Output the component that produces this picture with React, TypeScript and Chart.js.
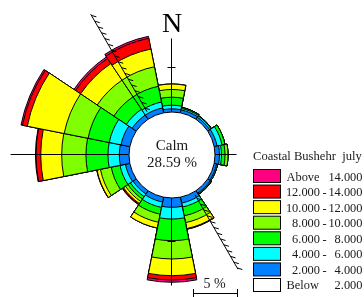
import React, { useEffect, useRef } from 'react';
import { Chart, registerables } from 'chart.js';

Chart.register(...registerables);

// 16 wind directions, clockwise from North
const directions = ['N', 'NNE', 'NE', 'ENE', 'E', 'ESE', 'SE', 'SSE', 'S', 'SSW', 'SW', 'WSW', 'W', 'WNW', 'NW', 'NNW'];

// frequency (%) of each speed class per direction
const band2to4 = [0.36, 0.34, 0.28, 0.34, 0.51, 0.28, 0.34, 0.68, 1.06, 0.57, 0.45, 0.51, 1.10, 1.02, 0.57, 0.57];
const band4to6 = [0.41, 0.17, 0.17, 0.57, 0.23, 0.12, 0.11, 0.46, 1.33, 0.62, 0.35, 0.63, 1.29, 1.37, 0.79, 0.68];
const band6to8 = [0.91, 0.12, 0.06, 0.34, 0.40, 0.00, 0.06, 1.02, 2.46, 0.78, 0.34, 1.02, 2.50, 2.45, 1.71, 1.82];
const band8to10 = [0.88, 0.00, 0.00, 0.00, 0.34, 0.00, 0.00, 0.79, 2.08, 0.94, 0.34, 1.25, 2.76, 2.77, 2.27, 2.27];
const band10to12 = [0.62, 0.00, 0.00, 0.00, 0.00, 0.00, 0.00, 0.69, 1.90, 0.67, 0.28, 0.40, 2.38, 4.27, 2.27, 2.05];
const band12to14 = [0.00, 0.00, 0.00, 0.00, 0.00, 0.00, 0.00, 0.08, 0.49, 0.00, 0.12, 0.03, 0.54, 0.56, 0.69, 1.25];
const bandAbove14 = [0.00, 0.00, 0.00, 0.00, 0.00, 0.00, 0.00, 0.00, 0.26, 0.00, 0.05, 0.00, 0.06, 0.17, 0.22, 0.22];

const calmPercent = 28.59;
const chartTitle = 'Coastal Bushehr  july';

const bandSeries = [band2to4, band4to6, band6to8, band8to10, band10to12, band12to14, bandAbove14];
const bandNames = ['2.000 - 4.000', '4.000 - 6.000', '6.000 - 8.000', '8.000 - 10.000', '10.000 - 12.000', '12.000 - 14.000', 'Above 14.000'];
const bandColors = ['#0080FF', '#00FFFF', '#00FF00', '#80FF00', '#FFFF00', '#FF0000', '#FF0080'];

// legend rows (top to bottom)
const legendLow = ['Above', '12.000', '10.000', '8.000', '6.000', '4.000', '2.000', 'Below'];
const legendHigh = ['14.000', '14.000', '12.000', '10.000', '8.000', '6.000', '4.000', '2.000'];
const legendColors = ['#FF0080', '#FF0000', '#FFFF00', '#80FF00', '#00FF00', '#00FFFF', '#0080FF', '#FFFFFF'];

const scaleBarPercent = 5;

const SERIF = '"Liberation Serif", "Times New Roman", serif';

export default function App() {
  const ref = useRef<HTMLCanvasElement>(null);

  useEffect(() => {
    const canvas = ref.current;
    if (!canvas) return;

    // cumulative radii for stacking
    const cumulative: number[][] = [];
    let run = directions.map(() => 0);
    bandSeries.forEach((b) => {
      run = run.map((v, i) => v + b[i]);
      cumulative.push(run.slice());
    });

    const datasets = cumulative.map((d, k) => ({
      label: bandNames[k],
      data: d,
      backgroundColor: bandColors[k],
      borderColor: '#000000',
      borderWidth: 1,
      clip: false as any,
    }));

    const pxPerPercent = 8.8;
    const calmRadius = 43;
    const rMin = -calmRadius / pxPerPercent;
    const rMax = 14;

    const overlay = {
      id: 'overlay',
      afterDatasetsDraw(chart: any) {
        const ctx = chart.ctx as CanvasRenderingContext2D;
        const s = chart.scales.r;
        const cx = s.xCenter;
        const cy = s.yCenter;
        const rad = (v: number) => s.getDistanceFromCenterForValue(v);
        const r0 = rad(0);
        const lx = cx - 0.5;
        const ly = cy - 0.5;
        ctx.save();
        ctx.strokeStyle = '#000';
        ctx.lineWidth = 1;
        const seg = (x1: number, y1: number, x2: number, y2: number) => {
          ctx.beginPath();
          ctx.moveTo(x1, y1);
          ctx.lineTo(x2, y2);
          ctx.stroke();
        };
        // cross axes
        seg(lx, ly - r0, lx, ly - rad(8.3));
        seg(lx, ly + r0, lx, ly + rad(10.0));
        seg(lx - r0, ly, lx - rad(13.4), ly);
        seg(lx + r0, ly, lx + rad(2.5), ly);
        // 5% ticks
        const t5 = rad(5);
        seg(lx - 4, ly - t5, lx + 4, ly - t5);
        seg(lx - 4, ly + t5, lx + 4, ly + t5);

        // coastline with hatching
        const bearing = (330 * Math.PI) / 180;
        const ux = Math.sin(bearing);
        const uy = -Math.cos(bearing);
        const coast = (from: number, to: number, sign: number) => {
          const a = rad(from);
          const b = rad(to);
          seg(cx + sign * ux * a, cy + sign * uy * a, cx + sign * ux * b, cy + sign * uy * b);
          for (let r = a + 4; r <= b; r += 6.7) {
            const px = cx + sign * ux * r;
            const py = cy + sign * uy * r;
            seg(px, py, px + 5, py + 1.5);
          }
        };
        coast(0.8, 13.6, 1);
        coast(0.35, 10.1, -1);

        // calm circle
        ctx.beginPath();
        ctx.arc(cx, cy, r0, 0, Math.PI * 2);
        ctx.fillStyle = '#ffffff';
        ctx.fill();
        ctx.stroke();

        ctx.fillStyle = '#1a1a1a';
        ctx.textAlign = 'center';
        ctx.textBaseline = 'alphabetic';
        ctx.font = `15px ${SERIF}`;
        ctx.fillText('Calm', cx, cy - 5);
        ctx.fillText(`${calmPercent.toFixed(2)} %`, cx, cy + 12);

        // North label
        ctx.fillStyle = '#000';
        ctx.font = `28px ${SERIF}`;
        ctx.fillText('N', cx, 31.5);

        // scale bar
        const barX = 193.5;
        const barLen = rad(scaleBarPercent) - r0;
        seg(barX, 293.5, barX + barLen, 293.5);
        seg(barX, 289, barX, 297);
        seg(barX + barLen, 289, barX + barLen, 297);
        ctx.font = `14px ${SERIF}`;
        ctx.fillStyle = '#1a1a1a';
        ctx.fillText(`${scaleBarPercent} %`, barX + barLen / 2 - 1, 288);

        // legend
        ctx.textAlign = 'left';
        ctx.font = `12.6px ${SERIF}`;
        ctx.fillText(chartTitle, 253, 160);
        ctx.font = `12.4px ${SERIF}`;
        legendLow.forEach((lo, i) => {
          const y = 169.5 + i * 15.57;
          ctx.fillStyle = legendColors[i];
          ctx.fillRect(253.5, y, 27, 13);
          ctx.strokeStyle = '#000';
          ctx.strokeRect(253.5, y, 27, 13);
          ctx.fillStyle = '#1a1a1a';
          const base = y + 11;
          if (lo === 'Above' || lo === 'Below') {
            ctx.textAlign = 'left';
            ctx.fillText(lo, 286.5, base);
          } else {
            ctx.textAlign = 'right';
            ctx.fillText(lo, 320, base);
            ctx.textAlign = 'center';
            ctx.fillText('-', 324.5, base);
          }
          ctx.textAlign = 'right';
          ctx.fillText(legendHigh[i], 362.5, base);
        });
        ctx.restore();
      },
    };

    const chart = new Chart(canvas, {
      type: 'polarArea',
      data: { labels: directions, datasets: datasets as any },
      options: {
        responsive: false,
        animation: false,
        devicePixelRatio: 1,
        layout: { padding: { left: 0, right: 20, top: 13, bottom: 0 } },
        plugins: { legend: { display: false }, tooltip: { enabled: false } },
        scales: {
          r: {
            min: rMin,
            max: rMax,
            startAngle: -11.25,
            grid: { display: false },
            angleLines: { display: false },
            ticks: { display: false },
            pointLabels: { display: false },
            // radius so that 1 % of frequency spans pxPerPercent pixels
            afterFit: (scale: any) => {
              scale.drawingArea = (rMax - rMin) * pxPerPercent;
            },
          },
        },
      } as any,
      plugins: [overlay],
    });
    return () => chart.destroy();
  }, []);

  return (
    <div style={{ position: 'fixed', left: 0, top: 0, width: 364, height: 297, background: '#fff' }}>
      <canvas ref={ref} width={364} height={297} style={{ display: 'block', width: 364, height: 297 }} />
    </div>
  );
}
